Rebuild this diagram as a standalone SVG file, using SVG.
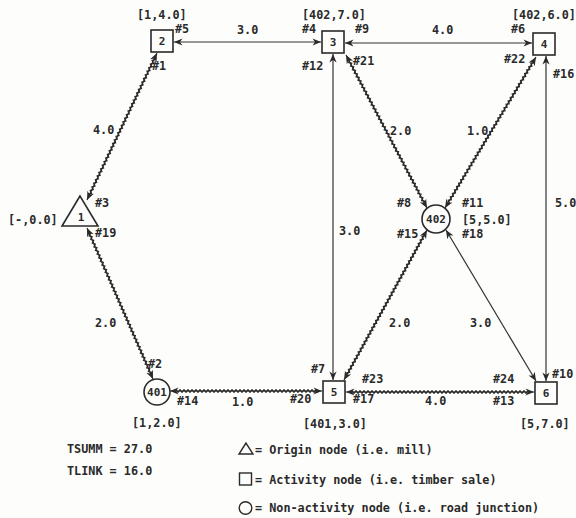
<svg xmlns="http://www.w3.org/2000/svg" xmlns:xlink="http://www.w3.org/1999/xlink" width="576" height="518" viewBox="0 0 576 518">
<style>
.bg{fill:#fdfdfc}
.nd{fill:none;stroke:#2a2a2a;stroke-width:1.6}
.lk{stroke:#333;stroke-width:1.2;fill:none}
.zz{stroke:#2a2a2a;stroke-width:1.4;fill:none}
.t{font-family:"DejaVu Sans Mono","Liberation Mono",monospace;font-size:11.8px;font-weight:bold;fill:#2a2a2a}
.nl{font-family:"DejaVu Sans Mono","Liberation Mono",monospace;font-size:11px;font-weight:bold;fill:#2a2a2a;text-anchor:middle}
</style>
<defs>
<marker id="ah" viewBox="-10 -5 11 10" refX="0" refY="0" markerWidth="11" markerHeight="10" markerUnits="userSpaceOnUse" orient="auto-start-reverse">
<path d="M-8.5,-3.6 L0,0 L-8.5,3.6 L-6,0 z" fill="#2a2a2a"/>
</marker>
<path id="zzp" d="M0,1.1 l2,-2.2 2,2.2 2,-2.2 2,2.2 2,-2.2 2,2.2 2,-2.2 2,2.2 2,-2.2 2,2.2 2,-2.2 2,2.2 2,-2.2 2,2.2 2,-2.2 2,2.2 2,-2.2 2,2.2 2,-2.2 2,2.2 2,-2.2 2,2.2 2,-2.2 2,2.2 2,-2.2 2,2.2 2,-2.2 2,2.2 2,-2.2 2,2.2 2,-2.2 2,2.2 2,-2.2 2,2.2 2,-2.2 2,2.2 2,-2.2 2,2.2 2,-2.2 2,2.2 2,-2.2 2,2.2 2,-2.2 2,2.2 2,-2.2 2,2.2 2,-2.2 2,2.2 2,-2.2 2,2.2 2,-2.2 2,2.2 2,-2.2 2,2.2 2,-2.2 2,2.2 2,-2.2 2,2.2 2,-2.2 2,2.2 2,-2.2 2,2.2 2,-2.2 2,2.2 2,-2.2 2,2.2 2,-2.2 2,2.2 2,-2.2 2,2.2 2,-2.2 2,2.2 2,-2.2 2,2.2 2,-2.2 2,2.2 2,-2.2 2,2.2 2,-2.2 2,2.2 2,-2.2 2,2.2 2,-2.2 2,2.2 2,-2.2 2,2.2 2,-2.2 2,2.2 2,-2.2 2,2.2 2,-2.2 2,2.2 2,-2.2 2,2.2 2,-2.2 2,2.2 2,-2.2 2,2.2 2,-2.2 2,2.2"/>
<clipPath id="c12" clipPathUnits="userSpaceOnUse"><rect x="6" y="-4" width="151" height="8"/></clipPath>
<clipPath id="c1401" clipPathUnits="userSpaceOnUse"><rect x="6" y="-4" width="153" height="8"/></clipPath>
<clipPath id="c3402" clipPathUnits="userSpaceOnUse"><rect x="6" y="-4" width="161" height="8"/></clipPath>
<clipPath id="c4402" clipPathUnits="userSpaceOnUse"><rect x="6" y="-4" width="164" height="8"/></clipPath>
<clipPath id="c4025" clipPathUnits="userSpaceOnUse"><rect x="6" y="-4" width="159" height="8"/></clipPath>
<clipPath id="c4015" clipPathUnits="userSpaceOnUse"><rect x="6" y="-4" width="140" height="8"/></clipPath>
<clipPath id="c56" clipPathUnits="userSpaceOnUse"><rect x="6" y="-4" width="176" height="8"/></clipPath>
</defs>
<rect class="bg" x="0" y="0" width="576" height="518"/>

<g id="connectors">
  <g id="link-1-2" transform="translate(87,200) rotate(-64.54)">
    <line class="lk" x1="0" y1="0" x2="162.8" y2="0" marker-start="url(#ah)" marker-end="url(#ah)"/>
    <use xlink:href="#zzp" class="zz" clip-path="url(#c12)"/>
  </g>
  <g id="link-1-401" transform="translate(87,228) rotate(66.39)">
    <line class="lk" x1="0" y1="0" x2="164.8" y2="0" marker-start="url(#ah)" marker-end="url(#ah)"/>
    <use xlink:href="#zzp" class="zz" clip-path="url(#c1401)"/>
  </g>
  <g id="link-3-402" transform="translate(346,55) rotate(62.11)">
    <line class="lk" x1="0" y1="0" x2="173.1" y2="0" marker-start="url(#ah)" marker-end="url(#ah)"/>
    <use xlink:href="#zzp" class="zz" clip-path="url(#c3402)"/>
  </g>
  <g id="link-4-402" transform="translate(536,57) rotate(121.07)">
    <line class="lk" x1="0" y1="0" x2="176.3" y2="0" marker-start="url(#ah)" marker-end="url(#ah)"/>
    <use xlink:href="#zzp" class="zz" clip-path="url(#c4402)"/>
  </g>
  <g id="link-402-5" transform="translate(427,230) rotate(118.96)">
    <line class="lk" x1="0" y1="0" x2="171.4" y2="0" marker-start="url(#ah)" marker-end="url(#ah)"/>
    <use xlink:href="#zzp" class="zz" clip-path="url(#c4025)"/>
  </g>
  <g id="link-401-5" transform="translate(170,391)">
    <line class="lk" x1="0" y1="0" x2="152" y2="0" marker-start="url(#ah)" marker-end="url(#ah)"/>
    <use xlink:href="#zzp" class="zz" clip-path="url(#c4015)"/>
  </g>
  <g id="link-5-6" transform="translate(346,392)">
    <line class="lk" x1="0" y1="0" x2="188" y2="0" marker-start="url(#ah)" marker-end="url(#ah)"/>
    <use xlink:href="#zzp" class="zz" clip-path="url(#c56)"/>
  </g>
  <line id="link-2-3" class="lk" x1="174" y1="42" x2="321" y2="42" marker-start="url(#ah)" marker-end="url(#ah)"/>
  <line id="link-3-4" class="lk" x1="345" y1="43" x2="532" y2="43" marker-start="url(#ah)" marker-end="url(#ah)"/>
  <line id="link-3-5" class="lk" x1="333" y1="54" x2="333" y2="380" marker-start="url(#ah)" marker-end="url(#ah)"/>
  <line id="link-4-6" class="lk" x1="546" y1="56" x2="546" y2="381" marker-start="url(#ah)" marker-end="url(#ah)"/>
  <line id="link-402-6" class="lk" x1="446" y1="230" x2="536" y2="381" marker-start="url(#ah)" marker-end="url(#ah)"/>
</g>

<g id="node-1">
  <polygon class="nd" points="80,196 62,226 98,226"/>
  <text class="nl" x="81" y="221">1</text>
</g>
<g id="node-2">
  <rect class="nd" x="151" y="30" width="22" height="22"/>
  <text class="nl" x="162" y="45">2</text>
</g>
<g id="node-3">
  <rect class="nd" x="322" y="31" width="22" height="22"/>
  <text class="nl" x="333" y="46">3</text>
</g>
<g id="node-4">
  <rect class="nd" x="533" y="33" width="22" height="22"/>
  <text class="nl" x="544" y="48">4</text>
</g>
<g id="node-5">
  <rect class="nd" x="323" y="381" width="22" height="22"/>
  <text class="nl" x="334" y="396">5</text>
</g>
<g id="node-6">
  <rect class="nd" x="535" y="382" width="22" height="22"/>
  <text class="nl" x="546" y="397">6</text>
</g>
<g id="node-401">
  <circle class="nd" cx="157" cy="392" r="13"/>
  <text class="nl" x="157" y="396">401</text>
</g>
<g id="node-402">
  <circle class="nd" cx="436" cy="219" r="14"/>
  <text class="nl" x="436" y="223">402</text>
</g>

<g id="labels">
  <text class="t" x="137" y="19">[1,4.0]</text>
  <text class="t" x="302" y="19">[402,7.0]</text>
  <text class="t" x="512" y="19">[402,6.0]</text>
  <text class="t" x="8" y="224">[-,0.0]</text>
  <text class="t" x="462" y="224">[5,5.0]</text>
  <text class="t" x="132" y="427">[1,2.0]</text>
  <text class="t" x="303" y="428">[401,3.0]</text>
  <text class="t" x="520" y="428">[5,7.0]</text>

  <text class="t" x="237" y="34">3.0</text>
  <text class="t" x="432" y="34">4.0</text>
  <text class="t" x="93" y="134">4.0</text>
  <text class="t" x="390" y="135">2.0</text>
  <text class="t" x="467" y="135">1.0</text>
  <text class="t" x="555" y="207">5.0</text>
  <text class="t" x="339" y="235">3.0</text>
  <text class="t" x="95" y="327">2.0</text>
  <text class="t" x="389" y="327">2.0</text>
  <text class="t" x="470" y="327">3.0</text>
  <text class="t" x="232" y="406">1.0</text>
  <text class="t" x="425" y="405">4.0</text>

  <text class="t" x="175" y="33">#5</text>
  <text class="t" x="152" y="70">#1</text>
  <text class="t" x="302" y="33">#4</text>
  <text class="t" x="355" y="33">#9</text>
  <text class="t" x="511" y="33">#6</text>
  <text class="t" x="302" y="70">#12</text>
  <text class="t" x="353" y="65">#21</text>
  <text class="t" x="504" y="63">#22</text>
  <text class="t" x="553" y="78">#16</text>
  <text class="t" x="95" y="207">#3</text>
  <text class="t" x="95" y="237">#19</text>
  <text class="t" x="397" y="207">#8</text>
  <text class="t" x="462" y="207">#11</text>
  <text class="t" x="397" y="238">#15</text>
  <text class="t" x="462" y="238">#18</text>
  <text class="t" x="148" y="368">#2</text>
  <text class="t" x="177" y="405">#14</text>
  <text class="t" x="311" y="373">#7</text>
  <text class="t" x="362" y="383">#23</text>
  <text class="t" x="290" y="403">#20</text>
  <text class="t" x="353" y="403">#17</text>
  <text class="t" x="493" y="383">#24</text>
  <text class="t" x="493" y="405">#13</text>
  <text class="t" x="552" y="378">#10</text>

  <text class="t" x="67" y="453">TSUMM = 27.0</text>
  <text class="t" x="67" y="475">TLINK = 16.0</text>
</g>

<g id="legend">
  <polygon class="nd" points="246,443 239,454 253,454" style="stroke-width:1.4"/>
  <text class="t" x="255" y="454">= Origin node (i.e. mill)</text>
  <rect class="nd" x="239.5" y="473" width="12" height="12" style="stroke-width:1.4"/>
  <text class="t" x="255" y="484">= Activity node (i.e. timber sale)</text>
  <circle class="nd" cx="245.5" cy="508" r="6.3" style="stroke-width:1.4"/>
  <text class="t" x="255" y="512">= Non-activity node (i.e. road junction)</text>
</g>
</svg>
